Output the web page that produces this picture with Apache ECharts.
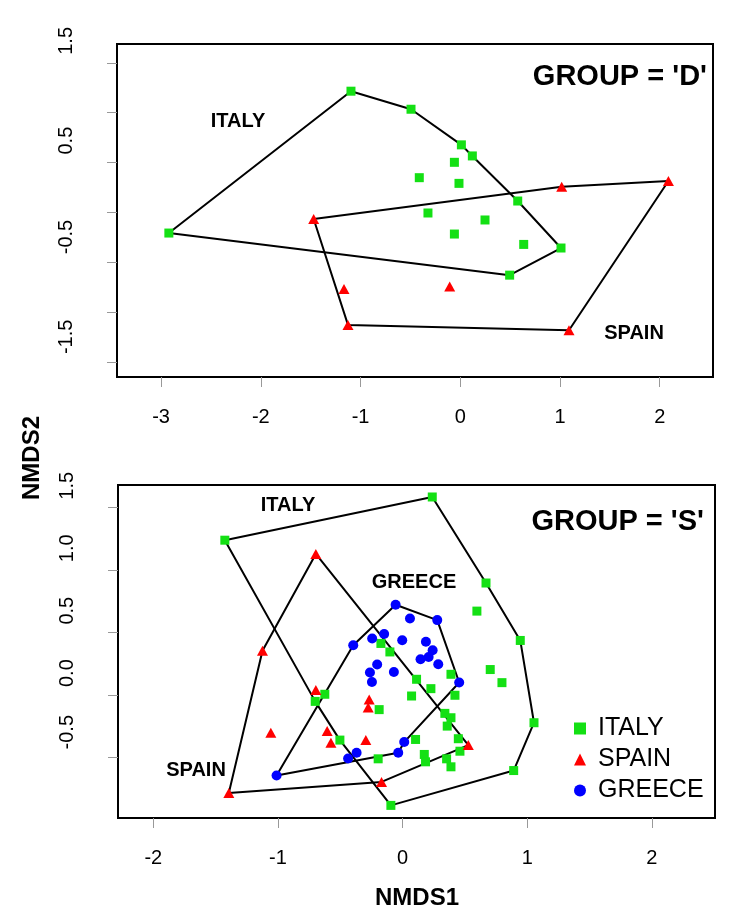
<!DOCTYPE html>
<html>
<head>
<meta charset="utf-8">
<script src="https://cdn.jsdelivr.net/npm/echarts@6/dist/echarts.min.js"></script>
<style>html,body{margin:0;padding:0;background:#fff;}#c{width:736px;height:918px;}</style>
</head>
<body>
<div id="c"></div>
<script>
// ---------- Panel D (top) ----------
const italyD_x = [-1.096, -0.494, -0.411, -0.324, -2.922, 0.011, 0.121, -0.059, -0.013, 0.576, 0.248, -0.059, 0.636, 1.010, 0.495];
const italyD_y = [1.215, 1.034, 0.348, -0.006, -0.207, 0.677, 0.566, 0.502, 0.291, 0.114, -0.076, -0.217, -0.321, -0.357, -0.629];
const italyD_hull = [4, 0, 1, 5, 6, 9, 13, 14, 4];
const spainD_x = [-1.470, -1.166, -1.126, 1.017, 2.087, -0.106, 1.090];
const spainD_y = [-0.066, -0.769, -1.128, 0.258, 0.315, -0.743, -1.181];
const spainD_hull = [0, 3, 4, 6, 2, 0];

// ---------- Panel S (bottom) ----------
const italyS_x = [-1.426, -0.174, -0.102, -0.624, -0.701, -0.188, -0.503, -0.196, -0.094, 0.238, 0.669, 0.596, 0.944, 0.703, 0.797, 0.388, 0.112, 0.227, 0.072, 0.420, 0.339, 0.388, 0.358, 0.104, 0.447, 0.460, 0.174, 0.184, 0.353, 0.388, 1.054, 0.891];
const italyS_y = [1.240, 0.413, 0.345, 0.006, -0.051, -0.117, -0.361, -0.511, -0.884, 1.586, 0.897, 0.672, 0.437, 0.204, 0.099, 0.166, 0.126, 0.051, -0.008, -0.002, -0.147, -0.182, -0.249, -0.356, -0.350, -0.450, -0.476, -0.535, -0.511, -0.575, -0.222, -0.605];
const italyS_hull = [0, 9, 10, 12, 30, 31, 8, 6, 4, 0];
const spainS_x = [-0.696, -1.124, -0.696, -0.268, -0.276, -1.057, -0.605, -0.575, -0.295, -0.169, -1.394, 0.527];
const spainS_y = [1.130, 0.354, 0.040, -0.035, -0.101, -0.302, -0.289, -0.383, -0.361, -0.696, -0.784, -0.401];
const spainS_hull = [10, 1, 0, 11, 9, 10];
const greeceS_x = [-0.056, 0.059, -0.396, -0.244, -0.148, -0.003, -0.204, -0.262, -0.070, -0.246, -1.011, -0.437, -0.369, -0.035, 0.013, 0.278, 0.187, 0.241, 0.209, 0.144, 0.286, 0.454];
const greeceS_y = [0.723, 0.613, 0.399, 0.453, 0.488, 0.439, 0.244, 0.180, 0.185, 0.104, -0.645, -0.508, -0.463, -0.463, -0.377, 0.600, 0.426, 0.359, 0.305, 0.287, 0.247, 0.100];
const greeceS_hull = [10, 2, 0, 15, 21, 14, 13, 10];

// ---------- Ticks ----------
const xTicksD = [-3, -2, -1, 0, 1, 2];
const yTicksD = [-1.5, -1, -0.5, 0, 0.5, 1, 1.5];
const yLabelsD = [-1.5, -0.5, 0.5, 1.5];
const xTicksS = [-2, -1, 0, 1, 2];
const yTicksS = [-0.5, 0, 0.5, 1, 1.5];

const GREEN = '#14e014', RED = '#ff0000', BLUE = '#0000ff';
const FONT = '"Liberation Sans", Arial, Helvetica, sans-serif';

function pts(xs, ys) { return xs.map((x, i) => [x, ys[i]]); }
function hull(xs, ys, idx) { return idx.map(i => [xs[i], ys[i]]); }

function xAxisCfg(g, min, max, ticks) {
  return {
    type: 'value', gridIndex: g, min: min, max: max,
    splitLine: {show: false},
    axisLine: {show: false, onZero: false},
    axisTick: {show: true, length: 10, lineStyle: {color: '#999', width: 1}, customValues: ticks},
    axisLabel: {customValues: ticks, fontSize: 20, color: '#000', fontFamily: FONT, margin: 30,
      formatter: v => String(v)}
  };
}
function yAxisCfg(g, min, max, ticks, labels, fmt) {
  return {
    type: 'value', gridIndex: g, min: min, max: max,
    splitLine: {show: false},
    axisLine: {show: false, onZero: false},
    axisTick: {show: true, length: 10, lineStyle: {color: '#999', width: 1}, customValues: ticks},
    axisLabel: {customValues: labels, fontSize: 20, color: '#000', fontFamily: FONT, margin: 41,
      rotate: 90, align: 'left', verticalAlign: 'bottom', padding: [0, 0, 0, 8],
      formatter: fmt}
  };
}

function scatter(name, xi, yi, data, symbol, size, color) {
  return {name: name, type: 'scatter', xAxisIndex: xi, yAxisIndex: yi, data: data,
    symbol: symbol, symbolSize: size, itemStyle: {color: color, opacity: 1}, z: 5, silent: true};
}
function hullLine(xi, yi, data) {
  return {type: 'line', xAxisIndex: xi, yAxisIndex: yi, data: data, symbol: 'none',
    lineStyle: {color: '#000', width: 2}, z: 3, silent: true, animation: false};
}

const chart = echarts.init(document.getElementById('c'), null, {renderer: 'canvas'});
chart.setOption({
  animation: false,
  backgroundColor: '#fff',
  grid: [
    {left: 117, top: 44, width: 596, height: 333, show: true, borderColor: '#000', borderWidth: 2},
    {left: 118, top: 485, width: 597, height: 333, show: true, borderColor: '#000', borderWidth: 2}
  ],
  xAxis: [
    xAxisCfg(0, -3.442, 2.534, xTicksD),
    xAxisCfg(1, -2.283, 2.506, xTicksS)
  ],
  yAxis: [
    yAxisCfg(0, -1.65, 1.688, yTicksD, yLabelsD, v => v.toFixed(1)),
    yAxisCfg(1, -0.985, 1.682, yTicksS, yTicksS, v => v.toFixed(1))
  ],
  legend: {
    orient: 'vertical', left: 569, top: 711, itemWidth: 12, itemHeight: 12, itemGap: 6,
    selectedMode: false,
    textStyle: {fontSize: 25, color: '#000', fontFamily: FONT, lineHeight: 25, padding: [0, 0, 0, 7]},
    data: [{name: 'ITALY', icon: 'rect'}, {name: 'SPAIN', icon: 'triangle'}, {name: 'GREECE', icon: 'circle'}]
  },
  series: [
    hullLine(0, 0, hull(italyD_x, italyD_y, italyD_hull)),
    hullLine(0, 0, hull(spainD_x, spainD_y, spainD_hull)),
    scatter('ITALY', 0, 0, pts(italyD_x, italyD_y), 'rect', 9, GREEN),
    scatter('SPAIN', 0, 0, pts(spainD_x, spainD_y), 'triangle', [11, 10], RED),
    hullLine(1, 1, hull(italyS_x, italyS_y, italyS_hull)),
    hullLine(1, 1, hull(spainS_x, spainS_y, spainS_hull)),
    hullLine(1, 1, hull(greeceS_x, greeceS_y, greeceS_hull)),
    scatter('ITALY', 1, 1, pts(italyS_x, italyS_y), 'rect', 9, GREEN),
    scatter('SPAIN', 1, 1, pts(spainS_x, spainS_y), 'triangle', [11, 10], RED),
    scatter('GREECE', 1, 1, pts(greeceS_x, greeceS_y), 'circle', 10, BLUE)
  ],
  graphic: [
    {type: 'text', x: 238, y: 121, style: {text: 'ITALY', font: 'bold 20px ' + FONT, fill: '#000', textAlign: 'center', textVerticalAlign: 'middle'}},
    {type: 'text', x: 634, y: 333, style: {text: 'SPAIN', font: 'bold 20px ' + FONT, fill: '#000', textAlign: 'center', textVerticalAlign: 'middle'}},
    {type: 'text', x: 707, y: 77, style: {text: "GROUP = 'D'", font: 'bold 29px ' + FONT, fill: '#000', textAlign: 'right', textVerticalAlign: 'middle'}},
    {type: 'text', x: 288, y: 505, style: {text: 'ITALY', font: 'bold 20px ' + FONT, fill: '#000', textAlign: 'center', textVerticalAlign: 'middle'}},
    {type: 'text', x: 414, y: 582, style: {text: 'GREECE', font: 'bold 20px ' + FONT, fill: '#000', textAlign: 'center', textVerticalAlign: 'middle'}},
    {type: 'text', x: 196, y: 770, style: {text: 'SPAIN', font: 'bold 20px ' + FONT, fill: '#000', textAlign: 'center', textVerticalAlign: 'middle'}},
    {type: 'text', x: 704, y: 522, style: {text: "GROUP = 'S'", font: 'bold 29px ' + FONT, fill: '#000', textAlign: 'right', textVerticalAlign: 'middle'}},
    {type: 'text', x: 417, y: 898, style: {text: 'NMDS1', font: 'bold 24px ' + FONT, fill: '#000', textAlign: 'center', textVerticalAlign: 'middle'}},
    {type: 'text', x: 32, y: 458, rotation: Math.PI / 2, style: {text: 'NMDS2', font: 'bold 24px ' + FONT, fill: '#000', textAlign: 'center', textVerticalAlign: 'middle'}}
  ]
});
</script>
</body>
</html>
